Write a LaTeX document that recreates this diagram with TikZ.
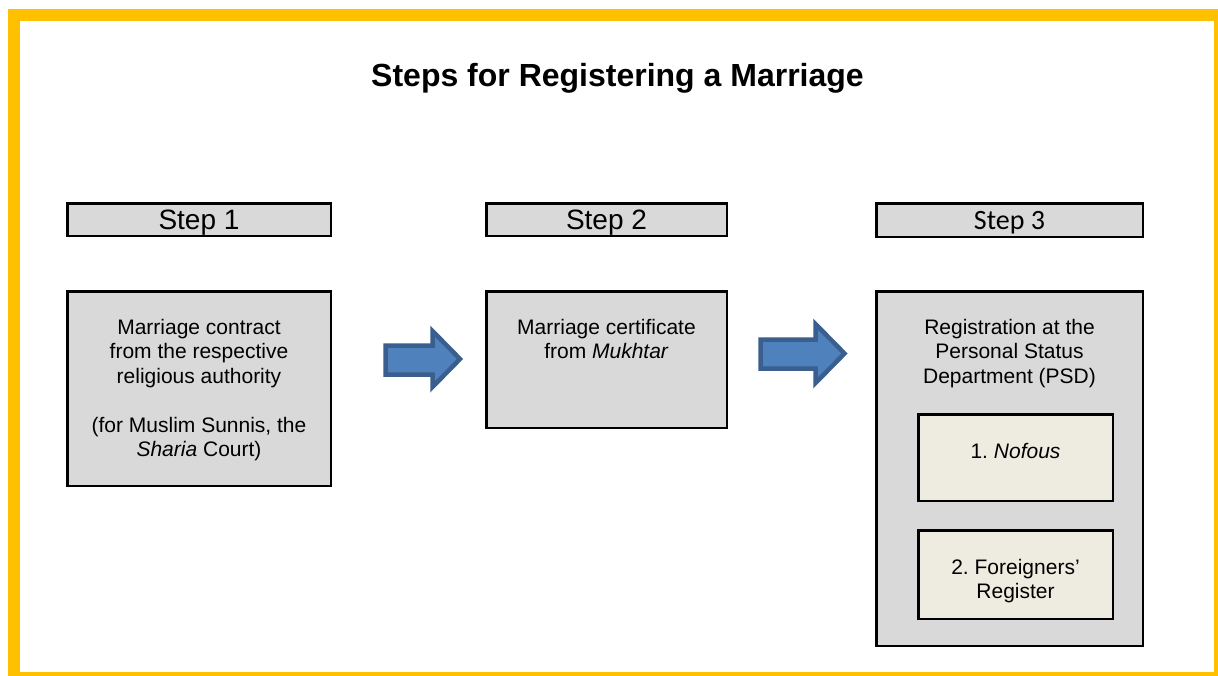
\documentclass[tikz,border=0pt]{standalone}
\usepackage{fontspec}
\setmainfont{Liberation Sans}
\newfontfamily\carlito{Carlito}
\frenchspacing
\definecolor{frameyellow}{HTML}{FFC000}
\definecolor{boxgray}{HTML}{D9D9D9}
\definecolor{boxcream}{HTML}{EEECE1}
\definecolor{arrowfill}{HTML}{4F81BD}
\definecolor{arrowline}{HTML}{3A5E8D}
\tikzset{
  gbox/.style={draw=black, line width=2.5pt, fill=boxgray, anchor=north west, inner sep=0pt, outer sep=0pt},
  cbox/.style={draw=black, line width=2.5pt, fill=boxcream, anchor=north west, inner sep=0pt, outer sep=0pt},
  txt/.style={anchor=base, inner sep=0pt, font=\fontsize{21}{24}\selectfont},
  hdr/.style={anchor=base, inner sep=0pt, font=\fontsize{28}{32}\selectfont},
  blockarrow/.style={draw=arrowline, fill=arrowfill, line width=4.5pt, line join=miter},
}
\begin{document}
\begin{tikzpicture}[x=1pt,y=-1pt]
\useasboundingbox (0,0) rectangle (1218,675);
\clip (0,0) rectangle (1218,675);
\fill[white] (0,0) rectangle (1218,675);
\draw[frameyellow, line width=12pt] (14,15) rectangle (1220,678);

\node[anchor=base, inner sep=0pt, font=\fontsize{32}{36}\selectfont\bfseries] (title) at (617.5,86) {Steps for Registering a Marriage};

% headers
\node[gbox, minimum width=263.5pt, minimum height=32.5pt] (h1) at (67.25,203.25) {};
\node[gbox, minimum width=240.5pt, minimum height=32.5pt] (h2) at (486.25,203.25) {};
\node[gbox, minimum width=266.5pt, minimum height=33.5pt] (h3) at (876.25,203.25) {};
\node[hdr] (h1t) at (199,229) {Step 1};
\node[hdr] (h2t) at (606.5,229) {Step 2};
\node[hdr, font=\fontsize{28}{32}\selectfont\carlito] (h3t) at (1009.5,229) {Step 3};

% main boxes
\node[gbox, minimum width=263.5pt, minimum height=194.5pt] (b1) at (67.25,291.25) {};
\node[gbox, minimum width=240.5pt, minimum height=136.5pt] (b2) at (486.25,291.25) {};
\node[gbox, minimum width=266.5pt, minimum height=354.5pt] (b3) at (876.25,291.25) {};
\node[cbox, minimum width=194.5pt, minimum height=86.5pt] (n1) at (918.25,414.25) {};
\node[cbox, minimum width=194.5pt, minimum height=88.5pt] (n2) at (918.25,530.25) {};

% step 1 text
\node[txt] (b1a) at (199,334) {Marriage contract};
\node[txt] (b1b) at (199,358.5) {from the respective};
\node[txt] (b1c) at (199,383) {religious authority};
\node[txt] (b1d) at (199,432) {(for Muslim Sunnis, the};
\node[txt] (b1e) at (199,456.5) {\textit{Sharia} Court)};

% step 2 text
\node[txt] (b2a) at (606.5,334) {Marriage certificate};
\node[txt] (b2b) at (606.5,358.5) {from \textit{Mukhtar}};

% step 3 text
\node[txt] (b3a) at (1009.5,334) {Registration at the};
\node[txt] (b3b) at (1009.5,358.5) {Personal Status};
\node[txt] (b3c) at (1009.5,383) {Department (PSD)};
\node[txt] (n1a) at (1015.5,458) {1. \textit{Nofous}};
\node[txt] (n2a) at (1015.5,574) {2. Foreigners’};
\node[txt] (n2b) at (1015.5,598.5) {Register};

% block arrows
\draw[blockarrow] (385.5,345.5) -- (432.5,345.5) -- (432.5,331) -- (460,359) -- (432.5,387) -- (432.5,374.5) -- (385.5,374.5) -- cycle;
\draw[blockarrow] (760.5,339.5) -- (815.5,339.5) -- (815.5,324) -- (844.5,353.5) -- (815.5,383) -- (815.5,368.5) -- (760.5,368.5) -- cycle;
\end{tikzpicture}
\end{document}
